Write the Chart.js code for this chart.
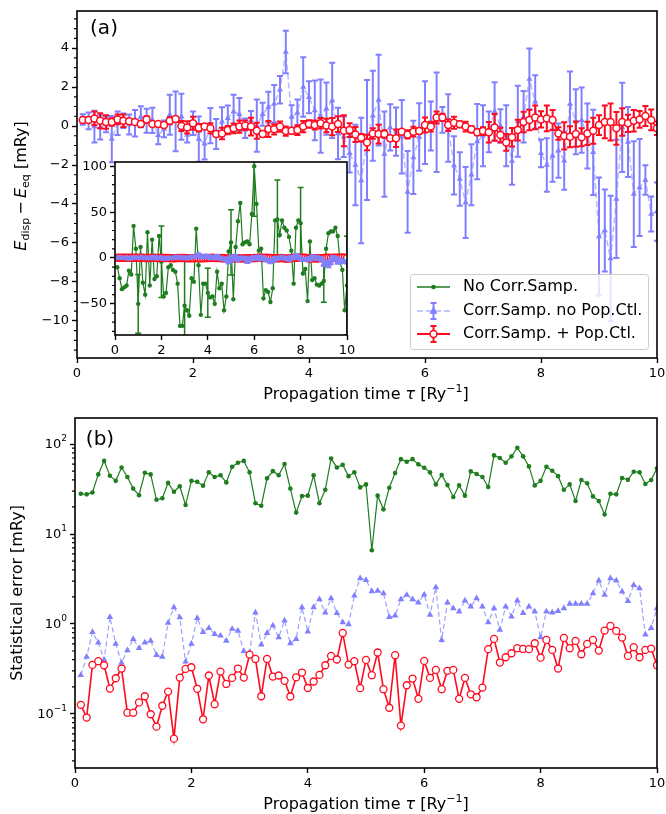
<!DOCTYPE html>
<html>
<head>
<meta charset="utf-8">
<script src="https://cdn.jsdelivr.net/npm/chart.js@4.4.1/dist/chart.umd.min.js"></script>
<style>
  body { margin: 0; background: #fff; width: 666px; height: 814px; position: relative; overflow: hidden; }
  canvas { position: absolute; }
</style>
</head>
<body>
<canvas id="chartA" width="666" height="405" style="left:0;top:0"></canvas>
<canvas id="chartB" width="666" height="409" style="left:0;top:405px"></canvas>
<canvas id="inset" width="300" height="215" style="left:60px;top:150px"></canvas>
<script>
// ---- data ----
const tau = [0.1,0.2,0.3,0.4,0.5,0.6,0.7,0.8,0.9,1.0,1.1,1.2,1.3,1.4,1.5,1.6,1.7,1.8,1.9,2.0,
  2.1,2.2,2.3,2.4,2.5,2.6,2.7,2.8,2.9,3.0,3.1,3.2,3.3,3.4,3.5,3.6,3.7,3.8,3.9,4.0,
  4.1,4.2,4.3,4.4,4.5,4.6,4.7,4.8,4.9,5.0,5.1,5.2,5.3,5.4,5.5,5.6,5.7,5.8,5.9,6.0,
  6.1,6.2,6.3,6.4,6.5,6.6,6.7,6.8,6.9,7.0,7.1,7.2,7.3,7.4,7.5,7.6,7.7,7.8,7.9,8.0,
  8.1,8.2,8.3,8.4,8.5,8.6,8.7,8.8,8.9,9.0,9.1,9.2,9.3,9.4,9.5,9.6,9.7,9.8,9.9,10.0];

// energy deviation (mRy)
const meanGreen = [-10,-22,-34,-32,-30,-14,-18,35,10,-50,12,-27,-40,28,-30,20,-23,-20,24,-4,
  -42,-38,-10,-8,-13,-15,-28,-74,-74,-52,-57,-63,-22,-26,32,-8,-62,-28,-28,-38,
  -43,-42,-50,-15,-33,-28,-57,-42,7,17,-45,12,40,60,15,17,18,15,48,100,
  59,8,10,-44,-35,-37,-48,-33,41,42,25,41,33,30,23,8,-28,33,41,38,
  -17,-12,-47,18,-24,-22,-29,-30,-28,-25,10,27,29,29,33,24,-5,-13,-57,-30];
const meanBlue = [0.34,0.26,-0.03,-0.07,0.08,-0.67,0.14,0.27,0.08,0.14,0.48,0.27,0.29,-0.48,-0.15,0.58,0.24,0.48,-0.46,0.14,
  -0.67,-0.91,0.02,-0.41,0.22,0.4,0.73,0.6,-0.12,0.29,0.02,0.6,0.97,1.14,1.86,3.8,0.46,0.68,2.0,1.47,
  0.8,0.51,0.89,1.31,-0.38,-0.55,-1.4,-2.0,-2.8,-0.72,0.53,1.33,-1.44,-0.07,-0.29,-0.55,-3.38,-1.61,-0.56,0.17,
  0.0,0.19,0.31,-0.1,-2.02,-2.72,-3.92,-2.5,-0.8,-0.5,-0.3,0.75,0.0,-0.5,-1.8,0.24,0.48,2.41,1.24,-1.4,
  -2.0,-1.52,-1.26,-1.78,1.13,0.22,0.3,-0.51,-1.35,-5.67,-5.36,-6.8,-3.74,-0.07,-0.82,-3.49,-3.15,-2.77,-4.51,-4.39];
const meanRed = [0.31,0.31,0.39,0.27,0.21,0.21,0.34,0.27,0.24,0.21,0.1,0.34,0.1,0.1,0.05,0.27,0.36,0.0,-0.07,0.14,
  -0.09,-0.03,-0.12,-0.41,-0.38,-0.21,-0.12,-0.03,0.03,-0.03,-0.24,-0.41,-0.15,-0.17,-0.03,-0.26,-0.24,-0.21,-0.03,0.1,
  0.05,0.14,0.03,-0.03,0.1,-0.24,-0.21,-0.43,-0.6,-0.85,-0.38,-0.41,-0.41,-0.63,-0.63,-0.29,-0.43,-0.29,-0.26,0.05,
  -0.03,0.44,0.44,0.05,0.17,0.09,-0.03,-0.17,-0.32,-0.26,-0.32,-0.07,-0.46,-0.84,-0.58,-0.21,0.21,0.31,0.44,0.34,
  0.39,0.31,-0.38,-0.51,-0.55,-0.41,-0.58,-0.38,-0.24,0.05,0.21,0.21,-0.12,0.21,0.14,0.27,0.34,0.51,0.31,-0.12];

// statistical error (mRy)
const errGreen = [28,27.6,29,46,65,44.5,39,55,43,32,27,48,46,24,25,37,29.5,34,21,39,
  38,34.5,48.5,43,45,37.5,56,62,65,48.5,22,20.6,41.6,50,45,60,32,17.3,26.4,26.7,
  45,22,31,69,55,59,44,48.5,33,35.6,6.6,26.7,18.8,32.7,47.7,68,63.6,68,59.5,54.6,
  48.5,35.6,45.3,35,25.8,34.7,26.7,49.7,46.4,43,33.3,74.8,70,62,73,91,73,56.5,34.7,39,
  56,50.6,44,31,35.6,23.3,39.8,36.6,26.2,23.3,16.5,28,27.6,42,40,49.3,48.5,36,39.8,53.7];
const errBlue = [0.27,0.43,0.81,0.62,0.4,1.19,0.6,0.37,0.51,0.68,0.54,0.62,0.65,0.45,0.43,1.03,1.53,1.18,0.38,0.6,
  1.16,0.81,0.9,0.77,0.74,0.65,0.88,0.84,0.5,0.48,1.34,0.59,0.79,0.96,0.71,1.09,0.61,0.68,1.53,0.82,
  1.53,1.88,1.34,1.93,1.32,1.04,0.99,2.06,3.22,3.08,2.31,2.33,2.19,1.19,1.24,1.88,2.1,1.88,1.73,2.12,
  1.26,2.55,0.66,1.73,1.49,1.37,1.82,1.56,1.93,1.56,1.04,1.49,0.86,1.56,1.21,1.82,1.32,1.56,1.37,0.71,
  1.37,1.34,1.39,1.49,1.67,1.67,1.67,1.67,2.19,3.03,2.1,3.22,3.03,2.29,1.8,2.71,2.49,0.76,0.9,1.49];
const errRed = [0.126,0.091,0.35,0.385,0.347,0.191,0.249,0.319,0.103,0.103,0.134,0.157,0.099,0.072,0.123,0.177,0.053,0.253,0.316,0.33,
  0.19,0.087,0.267,0.128,0.295,0.215,0.251,0.319,0.253,0.456,0.408,0.157,0.408,0.26,0.267,0.233,0.156,0.255,0.288,0.194,
  0.229,0.271,0.347,0.441,0.402,0.794,0.353,0.385,0.193,0.398,0.269,0.481,0.188,0.117,0.449,0.074,0.208,0.247,0.147,0.388,
  0.251,0.308,0.188,0.301,0.308,0.147,0.251,0.165,0.153,0.196,0.524,0.682,0.372,0.426,0.472,0.537,0.527,0.524,0.61,0.422,
  0.664,0.514,0.319,0.699,0.537,0.648,0.46,0.6,0.664,0.506,0.843,0.95,0.836,0.705,0.441,0.551,0.426,0.514,0.532,0.347];

const xTicks = [0, 2, 4, 6, 8, 10];
const yTicksA = [-10, -8, -6, -4, -2, 0, 2, 4];
const yTicksInset = [-50, 0, 50, 100];
const yTicksB = [0.1, 1, 10, 100];
const seriesNames = ['No Corr.Samp.', 'Corr.Samp. no Pop.Ctl.', 'Corr.Samp. + Pop.Ctl.'];

const GREEN = 'rgb(30,125,30)';
const BLUE = 'rgb(128,128,255)';
const RED = 'rgb(255,10,30)';
const FONT = '"DejaVu Sans", sans-serif';

Chart.defaults.font.family = FONT;
Chart.defaults.font.size = 13;
Chart.defaults.color = '#000';
Chart.defaults.animation = false;

const pts = vals => tau.map((t, i) => ({ x: t, y: vals[i] }));

// fix axis size so the plot boxes land where they should
function fixSize(px) {
    return s => {
        if (s.isHorizontal()) s.height = px; else s.width = px;
        s.paddingLeft = s.paddingRight = s.paddingTop = s.paddingBottom = 0;
    };
}
function setTicks(list) {
    return s => { s.ticks = list.map(v => ({ value: v })); };
}
const minusSign = v => String(v).replace('-', '\u2212');

// draws vertical error bars under a dataset
const errorBars = {
    id: 'errorBars',
    beforeDatasetDraw(chart, args) {
        const ds = chart.data.datasets[args.index];
        if (!ds.errors) return;
        const { ctx, chartArea: a } = chart;
        const xs = chart.scales.x, ys = chart.scales.y;
        ctx.save();
        ctx.beginPath();
        ctx.rect(a.left, a.top, a.right - a.left, a.bottom - a.top);
        ctx.clip();
        ctx.strokeStyle = ds.errColor;
        ctx.lineWidth = ds.errWidth;
        const every = ds.errEvery || 1, off = ds.errOffset || 0, cap = ds.capHalf;
        ds.data.forEach((p, i) => {
            if ((i + off) % every) return;
            const px = xs.getPixelForValue(p.x);
            const y1 = ys.getPixelForValue(p.y - ds.errors[i]);
            const y2 = ys.getPixelForValue(p.y + ds.errors[i]);
            ctx.beginPath();
            ctx.moveTo(px, y1); ctx.lineTo(px, y2);
            ctx.moveTo(px - cap, y1); ctx.lineTo(px + cap, y1);
            ctx.moveTo(px - cap, y2); ctx.lineTo(px + cap, y2);
            ctx.stroke();
        });
        ctx.restore();
    }
};

// box around the axes + minor ticks + free text
const frame = {
    id: 'frame',
    beforeDraw(chart, args, opts) {
        if (!opts.fill) return;
        const { ctx, chartArea: a } = chart;
        ctx.save();
        ctx.fillStyle = '#fff';
        ctx.fillRect(a.left, a.top, a.right - a.left, a.bottom - a.top);
        ctx.restore();
    },
    afterDraw(chart, args, opts) {
        const { ctx, chartArea: a } = chart;
        ctx.save();
        ctx.strokeStyle = '#000';
        ctx.lineWidth = 1.6;
        ctx.strokeRect(a.left, a.top, a.right - a.left, a.bottom - a.top);
        (opts.minor || []).forEach(m => {
            const s = chart.scales[m.axis];
            ctx.lineWidth = 1.2;
            ctx.beginPath();
            m.values.forEach(v => {
                const p = s.getPixelForValue(v);
                if (m.axis === 'y') { ctx.moveTo(a.left, p); ctx.lineTo(a.left - 3, p); }
                else { ctx.moveTo(p, a.bottom); ctx.lineTo(p, a.bottom + 3); }
            });
            ctx.stroke();
        });
        ctx.restore();
        if (opts.draw) opts.draw(chart.ctx, chart);
    }
};

// text made of pieces (italics, sub/superscripts)
function drawRuns(ctx, parts, x, y, rot) {
    ctx.save();
    ctx.translate(x, y);
    if (rot) ctx.rotate(-Math.PI / 2);
    ctx.textBaseline = 'middle';
    ctx.fillStyle = '#000';
    let w = 0;
    parts.forEach(p => { ctx.font = p.f; w += ctx.measureText(p.t).width; });
    let cx = -w / 2;
    parts.forEach(p => {
        ctx.font = p.f;
        ctx.textAlign = 'left';
        ctx.fillText(p.t, cx, p.dy || 0);
        cx += ctx.measureText(p.t).width;
    });
    ctx.restore();
}
const F = '16px ' + FONT, FI = 'italic 16px ' + FONT, FS = '11px ' + FONT;
const xTitle = [
    { t: 'Propagation time ', f: F }, { t: 'τ', f: FI }, { t: ' [Ry', f: F },
    { t: '\u22121', f: FS, dy: -6 }, { t: ']', f: F }
];

function triangle(ctx, x, y, r) {
    ctx.beginPath();
    ctx.moveTo(x, y - r);
    ctx.lineTo(x + r * 0.9, y + r * 0.6);
    ctx.lineTo(x - r * 0.9, y + r * 0.6);
    ctx.closePath();
    ctx.fill();
}

function drawLegend(ctx) {
    ctx.save();
    ctx.fillStyle = 'rgba(255,255,255,0.8)';
    ctx.strokeStyle = '#cccccc';
    ctx.lineWidth = 1;
    ctx.beginPath();
    ctx.roundRect(410.5, 274.5, 238, 75, 3);
    ctx.fill();
    ctx.stroke();
    const x0 = 417, x1 = 450, xm = 433.5, rows = [287, 311, 334];
    // green
    ctx.strokeStyle = GREEN; ctx.lineWidth = 1.3;
    ctx.beginPath(); ctx.moveTo(x0, rows[0]); ctx.lineTo(x1, rows[0]); ctx.stroke();
    ctx.fillStyle = GREEN;
    ctx.beginPath(); ctx.arc(xm, rows[0], 2.3, 0, Math.PI * 2); ctx.fill();
    // blue
    ctx.strokeStyle = 'rgba(128,128,255,0.6)'; ctx.lineWidth = 1.5; ctx.setLineDash([6, 3]);
    ctx.beginPath(); ctx.moveTo(x0, rows[1]); ctx.lineTo(x1, rows[1]); ctx.stroke();
    ctx.setLineDash([]);
    ctx.strokeStyle = BLUE; ctx.lineWidth = 2;
    ctx.beginPath();
    ctx.moveTo(xm, rows[1] - 8); ctx.lineTo(xm, rows[1] + 8);
    ctx.moveTo(xm - 3, rows[1] - 8); ctx.lineTo(xm + 3, rows[1] - 8);
    ctx.moveTo(xm - 3, rows[1] + 8); ctx.lineTo(xm + 3, rows[1] + 8);
    ctx.stroke();
    ctx.fillStyle = BLUE; triangle(ctx, xm, rows[1], 4.5);
    // red
    ctx.strokeStyle = RED; ctx.lineWidth = 2;
    ctx.beginPath();
    ctx.moveTo(x0, rows[2]); ctx.lineTo(x1, rows[2]);
    ctx.moveTo(xm, rows[2] - 8); ctx.lineTo(xm, rows[2] + 8);
    ctx.moveTo(xm - 3, rows[2] - 8); ctx.lineTo(xm + 3, rows[2] - 8);
    ctx.moveTo(xm - 3, rows[2] + 8); ctx.lineTo(xm + 3, rows[2] + 8);
    ctx.stroke();
    ctx.fillStyle = '#fff'; ctx.lineWidth = 1.5;
    ctx.beginPath(); ctx.arc(xm, rows[2], 3.5, 0, Math.PI * 2); ctx.fill(); ctx.stroke();
    ctx.fillStyle = '#000'; ctx.font = F; ctx.textBaseline = 'middle'; ctx.textAlign = 'left';
    seriesNames.forEach((n, i) => ctx.fillText(n, 463, rows[i]));
    ctx.restore();
}

function range(a, b, step, skip) {
    const out = [];
    for (let v = a; v <= b + 1e-9; v += step) {
        const r = Math.round(v * 100) / 100;
        if (!skip || Math.abs(r / skip - Math.round(r / skip)) > 1e-6) out.push(r);
    }
    return out;
}
const logMinor = [];
[0.01, 0.1, 1, 10, 100].forEach(d => { for (let k = 2; k <= 9; k++) logMinor.push(k * d); });

const axisBase = {
    grid: { drawOnChartArea: false, drawTicks: true, tickLength: 5, tickWidth: 1.4, tickColor: '#000' },
    border: { display: false },
    ticks: { padding: 3, color: '#000', maxRotation: 0, autoSkip: false, callback: minusSign }
};

// ---- panel (a) ----
new Chart(document.getElementById('chartA'), {
    type: 'line',
    data: {
        datasets: [
            {
                label: seriesNames[2], data: pts(meanRed), order: 0,
                borderColor: RED, borderWidth: 1.8, pointStyle: 'circle', pointRadius: 3.5,
                pointBackgroundColor: '#fff', pointBorderColor: RED, pointBorderWidth: 1.5,
                errors: errRed, errColor: RED, errWidth: 2, capHalf: 3
            },
            {
                label: seriesNames[1], data: pts(meanBlue), order: 1,
                borderColor: 'rgba(128,128,255,0.55)', borderWidth: 1.5, borderDash: [6, 3],
                pointStyle: 'triangle', pointRadius: 3.5,
                pointBackgroundColor: BLUE, pointBorderColor: BLUE, pointBorderWidth: 0,
                errors: errBlue, errColor: BLUE, errWidth: 2, capHalf: 3
            }
        ]
    },
    options: {
        responsive: false,
        layout: { padding: { left: 0, top: 11, right: 9, bottom: 0 } },
        scales: {
            x: { ...axisBase, type: 'linear', min: 0, max: 10, afterFit: fixSize(47), afterBuildTicks: setTicks(xTicks) },
            y: { ...axisBase, type: 'linear', min: -11.9, max: 5.9, afterFit: fixSize(77), afterBuildTicks: setTicks(yTicksA) }
        },
        plugins: {
            legend: { display: false }, tooltip: { enabled: false },
            frame: {
                minor: [{ axis: 'y', values: range(-11.5, 5.5, 0.5, 2) }],
                draw(ctx) {
                    drawLegend(ctx);
                    drawRuns(ctx, xTitle, 366, 395);
                    drawRuns(ctx, [
                        { t: 'E', f: FI }, { t: 'disp', f: FS, dy: 4 }, { t: '\u2009\u2212\u2009', f: F },
                        { t: 'E', f: FI }, { t: 'eq', f: FS, dy: 4 }, { t: ' [mRy]', f: F }
                    ], 22, 186, true);
                    drawRuns(ctx, [{ t: '(a)', f: '20px ' + FONT }], 104, 29);
                }
            }
        }
    },
    plugins: [errorBars, frame]
});

// ---- inset ----
new Chart(document.getElementById('inset'), {
    type: 'line',
    data: {
        datasets: [
            {
                label: seriesNames[1], data: pts(meanBlue), order: 0,
                borderColor: 'rgba(128,128,255,0.6)', borderWidth: 1.5, borderDash: [6, 3],
                pointStyle: 'triangle', pointRadius: 3.5,
                pointBackgroundColor: BLUE, pointBorderColor: BLUE, pointBorderWidth: 0,
                errors: errBlue, errColor: BLUE, errWidth: 2, capHalf: 3
            },
            {
                label: seriesNames[2], data: pts(meanRed), order: 1,
                borderColor: RED, borderWidth: 1.8, pointStyle: 'circle', pointRadius: 3.5,
                pointBackgroundColor: '#fff', pointBorderColor: RED, pointBorderWidth: 1.5,
                errors: errRed, errColor: RED, errWidth: 2, capHalf: 3
            },
            {
                label: seriesNames[0], data: pts(meanGreen), order: 2,
                borderColor: GREEN, borderWidth: 1.2, pointStyle: 'circle', pointRadius: 2.2,
                pointBackgroundColor: GREEN, pointBorderWidth: 0,
                errors: errGreen, errColor: GREEN, errWidth: 1.5, capHalf: 3, errEvery: 10, errOffset: 1
            }
        ]
    },
    options: {
        responsive: false,
        layout: { padding: { left: 0, top: 12, right: 13, bottom: 0 } },
        scales: {
            x: { ...axisBase, type: 'linear', min: 0, max: 10, afterFit: fixSize(30), afterBuildTicks: setTicks(xTicks) },
            y: { ...axisBase, type: 'linear', min: -84, max: 104.7, afterFit: fixSize(55), afterBuildTicks: setTicks(yTicksInset) }
        },
        plugins: {
            legend: { display: false }, tooltip: { enabled: false },
            frame: { fill: true, minor: [{ axis: 'y', values: range(-80, 100, 10, 50) }] }
        }
    },
    plugins: [errorBars, frame]
});

// ---- panel (b) ----
new Chart(document.getElementById('chartB'), {
    type: 'line',
    data: {
        datasets: [
            {
                label: seriesNames[2], data: pts(errRed), order: 0,
                borderColor: RED, borderWidth: 1.6, pointStyle: 'circle', pointRadius: 3.5,
                pointBackgroundColor: '#fff', pointBorderColor: RED, pointBorderWidth: 1.3
            },
            {
                label: seriesNames[1], data: pts(errBlue), order: 1,
                borderColor: 'rgba(128,128,255,0.75)', borderWidth: 1.2, borderDash: [5, 3],
                pointStyle: 'triangle', pointRadius: 3.8,
                pointBackgroundColor: BLUE, pointBorderColor: BLUE, pointBorderWidth: 0
            },
            {
                label: seriesNames[0], data: pts(errGreen), order: 2,
                borderColor: GREEN, borderWidth: 1.2, pointStyle: 'circle', pointRadius: 2.3,
                pointBackgroundColor: GREEN, pointBorderWidth: 0
            }
        ]
    },
    options: {
        responsive: false,
        layout: { padding: { left: 0, top: 13, right: 9, bottom: 0 } },
        scales: {
            x: { ...axisBase, type: 'linear', min: 0, max: 10, afterFit: fixSize(46), afterBuildTicks: setTicks(xTicks) },
            y: {
                ...axisBase, type: 'logarithmic', min: 0.025, max: 195,
                afterFit: fixSize(75), afterBuildTicks: setTicks(yTicksB),
                ticks: { ...axisBase.ticks, callback: () => '' }
            }
        },
        plugins: {
            legend: { display: false }, tooltip: { enabled: false },
            frame: {
                minor: [{ axis: 'y', values: logMinor.filter(v => v > 0.025 && v < 195) }],
                draw(ctx, chart) {
                    const s = chart.scales.y;
                    const exps = ['\u22121', '0', '1', '2'];
                    yTicksB.forEach((v, i) => {
                        const p = s.getPixelForValue(v);
                        ctx.save();
                        ctx.fillStyle = '#000';
                        ctx.textBaseline = 'middle';
                        ctx.textAlign = 'right';
                        ctx.font = '9px ' + FONT;
                        const ew = ctx.measureText(exps[i]).width;
                        ctx.fillText(exps[i], 67, p - 5);
                        ctx.font = '13px ' + FONT;
                        ctx.fillText('10', 67 - ew, p + 1);
                        ctx.restore();
                    });
                    drawRuns(ctx, xTitle, 366, 400);
                    drawRuns(ctx, [{ t: 'Statistical error [mRy]', f: F }], 18, 188, true);
                    drawRuns(ctx, [{ t: '(b)', f: '20px ' + FONT }], 100, 35);
                }
            }
        }
    },
    plugins: [frame]
});
</script>
</body>
</html>
